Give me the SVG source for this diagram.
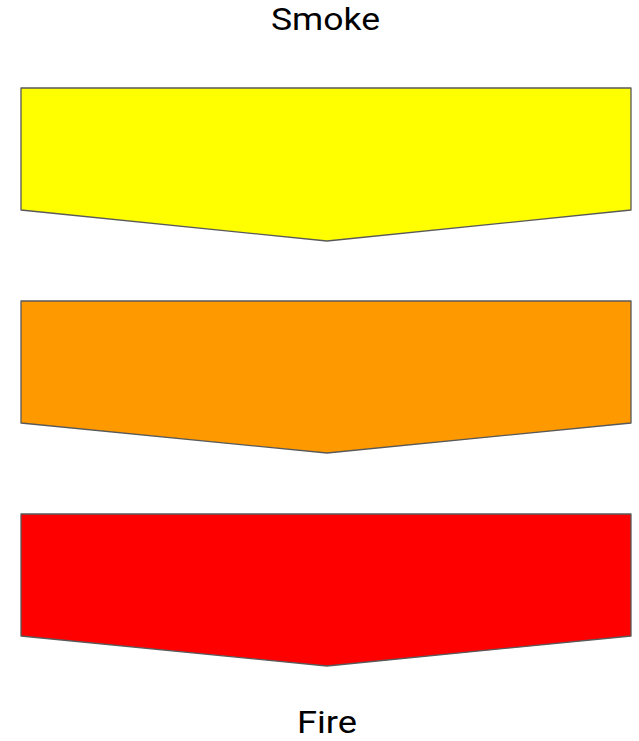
<svg xmlns="http://www.w3.org/2000/svg" width="639" height="741" viewBox="0 0 639 741">
<style>
.c{stroke:#595959;stroke-width:1.3;stroke-linejoin:round}
.t{font-family:Roboto,"Liberation Sans",sans-serif;font-size:32px;fill:#000}
</style>
<rect width="639" height="741" fill="#fff"/>
<g id="smoke-label"><text class="t" x="271" y="29.5" textLength="109" lengthAdjust="spacingAndGlyphs">Smoke</text></g>
<g id="yellow"><polygon class="c" fill="#ffff00" points="21,88 631,88 631,210 327,241 21,210"/></g>
<g id="orange"><polygon class="c" fill="#ff9900" points="21,301 631,301 631,423 327,453 21,423"/></g>
<g id="red"><polygon class="c" fill="#ff0000" points="21,514 631,514 631,636 327,666 21,636"/></g>
<g id="fire-label"><text class="t" x="297" y="733" textLength="60" lengthAdjust="spacingAndGlyphs">Fire</text></g>
<g id="connectors"/>
</svg>
